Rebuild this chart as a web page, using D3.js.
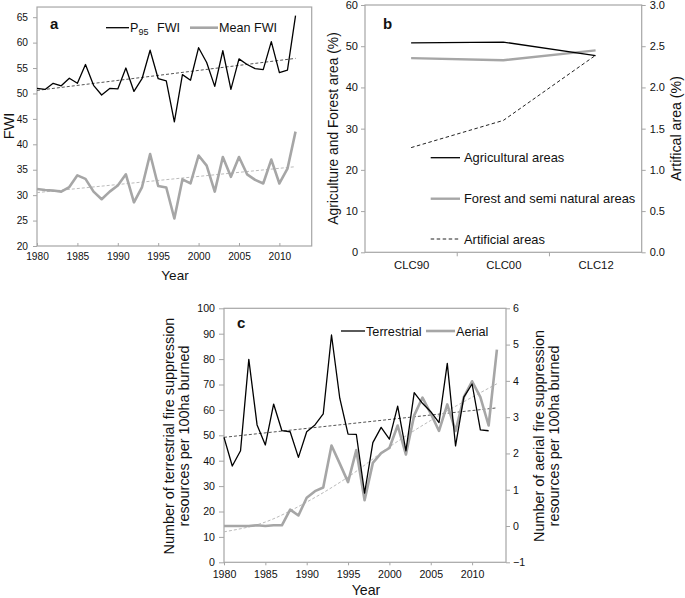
<!DOCTYPE html>
<html><head><meta charset="utf-8">
<script src="https://cdn.jsdelivr.net/npm/d3@7"></script>
<style>
body{margin:0;background:#fff;}
svg{display:block;font-family:"Liberation Sans",Arial,sans-serif;}
</style></head>
<body>
<svg id="c" width="685" height="598"></svg>
<script>
// ---------- Panel a data ----------
const yearsA = [1980,1981,1982,1983,1984,1985,1986,1987,1988,1989,1990,1991,1992,1993,1994,1995,1996,1997,1998,1999,2000,2001,2002,2003,2004,2005,2006,2007,2008,2009,2010,2011,2012];
const p95FWI = [51.0,50.8,52.0,51.5,53.0,52.0,55.7,51.6,49.7,51.0,50.9,55.0,50.4,52.9,58.5,52.9,52.5,44.4,53.7,52.6,59.0,56.1,51.4,58.4,50.8,56.8,55.7,54.9,54.7,60.2,54.1,54.6,65.3];
const meanFWI = [31.2,31.0,30.9,30.7,31.6,33.9,33.2,30.7,29.2,30.7,31.9,34.1,28.6,31.6,38.1,31.8,31.5,25.4,33.1,32.3,37.8,35.8,30.7,37.5,33.6,37.5,34.1,33.0,32.3,37.0,32.3,35.2,42.5];
const trendYearsA = [1980,2012];
const p95Trend = [50.6,56.9];
const meanTrend = [30.5,35.6];
const ticksAx = [1980,1985,1990,1995,2000,2005,2010];
const ticksAy = [20,25,30,35,40,45,50,55,60,65];

// ---------- Panel b data ----------
const clc = ["CLC90","CLC00","CLC12"];
const agri = [50.8,51.0,47.7];
const forest = [47.1,46.6,49.0];
const artificial = [1.27,1.60,2.39];
const ticksBl = [0,10,20,30,40,50,60];
const ticksBr = [0,0.5,1.0,1.5,2.0,2.5,3.0];

// ---------- Panel c data ----------
const yearsT = [1980,1981,1982,1983,1984,1985,1986,1987,1988,1989,1990,1991,1992,1993,1994,1995,1996,1997,1998,1999,2000,2001,2002,2003,2004,2005,2006,2007,2008,2009,2010,2011,2012];
const terrestrial = [49.2,37.9,43.9,79.9,54.1,46.2,62.3,51.8,51.4,41.3,51.4,54.1,58.4,89.5,64.6,50.5,50.4,27.2,47.1,53.1,48.5,61.5,43.9,66.8,62.6,59.3,55.0,78.3,45.8,65.0,70.2,52.1,51.8];
const yearsAe = [1980,1981,1982,1983,1984,1985,1986,1987,1988,1989,1990,1991,1992,1993,1994,1995,1996,1997,1998,1999,2000,2001,2002,2003,2004,2005,2006,2007,2008,2009,2010,2011,2012,2013];
const aerial = [0.0,0.0,0.0,0.0,0.02,0.0,0.02,0.02,0.45,0.29,0.78,0.96,1.06,2.22,1.72,1.21,2.09,0.71,1.74,2.01,2.15,2.77,1.97,3.05,3.54,3.10,2.62,3.35,2.62,3.55,3.99,3.55,2.77,4.86];
const terrTrendYears = [1980,2013];
const terrTrend = [49.2,60.8];
const aerTrendYears = [1980,1985,1990,1995,2000,2005,2010,2013];
const aerTrend = [-0.16,0.11,0.66,1.35,2.18,2.91,3.55,3.92];
const ticksCx = [1980,1985,1990,1995,2000,2005,2010];
const ticksCl = [0,10,20,30,40,50,60,70,80,90,100];
const ticksCr = [-1,0,1,2,3,4,5,6];

const svg = d3.select("#c");
const AX = "#a6a6a6";
const GRAY = "#a6a6a6";
const FONT = "'Liberation Sans',Arial,sans-serif";

function styleAxis(g, fs){
  g.selectAll("path.domain").remove();
  g.selectAll("line").attr("stroke", AX);
  g.selectAll("text").attr("fill","#111").style("font-size", fs+"px").style("font-family",FONT);
}
function box(x0,y0,x1,y1){
  svg.append("rect").attr("x",x0).attr("y",y0).attr("width",x1-x0).attr("height",y1-y0)
    .attr("fill","none").attr("stroke",AX).attr("stroke-width",1.2);
}
function rotText(x,y,txt,fs){
  svg.append("text").attr("transform",`translate(${x},${y}) rotate(-90)`)
    .attr("text-anchor","middle").style("font-size",fs+"px").attr("fill","#111").text(txt);
}
function legLine(x0,x1,y,color,w,dash){
  const l = svg.append("line").attr("x1",x0).attr("x2",x1).attr("y1",y).attr("y2",y)
    .attr("stroke",color).attr("stroke-width",w);
  if(dash) l.attr("stroke-dasharray",dash);
}
function txt(x,y,t,fs,extra){
  const e = svg.append("text").attr("x",x).attr("y",y).style("font-size",fs+"px").attr("fill","#111").text(t);
  if(extra) extra(e);
  return e;
}

// ================= Panel a =================
{
  const x = d3.scaleLinear().domain([1980,2014]).range([37,311.7]);
  const y = d3.scaleLinear().domain([20,65]).range([246,17.2]);
  box(37, y(67), 311.7, 246);
  const gx = svg.append("g").attr("transform","translate(0,246)")
    .call(d3.axisBottom(x).tickValues(ticksAx).tickFormat(d3.format("d")).tickSizeInner(-3).tickSizeOuter(0).tickPadding(7));
  styleAxis(gx,10.2);
  const gy = svg.append("g").attr("transform","translate(37,0)")
    .call(d3.axisLeft(y).tickValues(ticksAy).tickSizeInner(4).tickSizeOuter(0).tickPadding(5));
  styleAxis(gy,10.2);

  const line = d3.line().x(d=>x(d[0])).y(d=>y(d[1]));
  svg.append("path").datum(trendYearsA.map((t,i)=>[t,p95Trend[i]])).attr("d",line)
    .attr("fill","none").attr("stroke","#555").attr("stroke-width",1).attr("stroke-dasharray","3,2");
  svg.append("path").datum(trendYearsA.map((t,i)=>[t,meanTrend[i]])).attr("d",line)
    .attr("fill","none").attr("stroke","#bbb").attr("stroke-width",1).attr("stroke-dasharray","3,2");
  svg.append("path").datum(yearsA.map((t,i)=>[t,meanFWI[i]])).attr("d",line)
    .attr("fill","none").attr("stroke",GRAY).attr("stroke-width",2.6).attr("stroke-linejoin","round");
  svg.append("path").datum(yearsA.map((t,i)=>[t,p95FWI[i]])).attr("d",line)
    .attr("fill","none").attr("stroke","#000").attr("stroke-width",1.3).attr("stroke-linejoin","round");

  txt(50,29,"a",15).style("font-weight","bold");
  legLine(106,129,27.7,"#000",1.3);
  const t = txt(130,32,"P",12.6);
  t.append("tspan").attr("dy",3).style("font-size","9px").text("95");
  txt(157,32,"FWI",12.6);
  legLine(190,218,27.7,GRAY,2.6);
  txt(219,32,"Mean FWI",12.6);

  txt(175,280,"Year",13.5).attr("text-anchor","middle");
  rotText(13.5,126,"FWI",14.5);
}

// ================= Panel b =================
{
  const x = d3.scalePoint().domain(clc).range([365,641.7]).padding(0.5);
  const xb = d3.scaleBand().domain(clc).range([365,641.7]);
  const yl = d3.scaleLinear().domain([0,60]).range([252.3,5]);
  const yr = d3.scaleLinear().domain([0,3]).range([252.3,5]);
  box(365,5,641.7,252.3);
  const gx = svg.append("g").attr("transform","translate(0,252.3)")
    .call(d3.axisBottom(x).tickSizeInner(0).tickSizeOuter(0).tickPadding(9));
  styleAxis(gx,11.3);
  svg.append("g").selectAll("line").data(clc.slice(1)).join("line")
    .attr("x1",d=>xb(d)).attr("x2",d=>xb(d)).attr("y1",252.3).attr("y2",256.3).attr("stroke",AX);
  const gl = svg.append("g").attr("transform","translate(365,0)")
    .call(d3.axisLeft(yl).tickValues(ticksBl).tickSizeInner(4).tickSizeOuter(0).tickPadding(3));
  styleAxis(gl,11);
  const gr = svg.append("g").attr("transform","translate(641.7,0)")
    .call(d3.axisRight(yr).tickValues(ticksBr).tickFormat(d3.format(".1f")).tickSizeInner(4).tickSizeOuter(0).tickPadding(4));
  styleAxis(gr,11);

  const lineL = d3.line().x(d=>x(d[0])).y(d=>yl(d[1]));
  const lineR = d3.line().x(d=>x(d[0])).y(d=>yr(d[1]));
  svg.append("path").datum(clc.map((c,i)=>[c,artificial[i]])).attr("d",lineR)
    .attr("fill","none").attr("stroke","#222").attr("stroke-width",1).attr("stroke-dasharray","3.5,2.5");
  svg.append("path").datum(clc.map((c,i)=>[c,forest[i]])).attr("d",lineL)
    .attr("fill","none").attr("stroke",GRAY).attr("stroke-width",2.4);
  svg.append("path").datum(clc.map((c,i)=>[c,agri[i]])).attr("d",lineL)
    .attr("fill","none").attr("stroke","#000").attr("stroke-width",1.3);

  txt(383,29,"b",15).style("font-weight","bold");
  legLine(430.7,460,157.7,"#000",1.3);
  txt(464,162.3,"Agricultural areas",12.9);
  legLine(430.7,460,198.7,GRAY,2.4);
  txt(464,203.3,"Forest and semi natural areas",12.9);
  legLine(430.7,460,239,"#222",1,"3.5,2.5");
  txt(464,243.6,"Artificial areas",12.9);

  rotText(338,128.5,"Agriculture and Forest area (%)",13.8);
  rotText(681,128.5,"Artifical area (%)",14.2);
}

// ================= Panel c =================
{
  const x = d3.scaleLinear().domain([1980,2014.1]).range([224,506]);
  const yl = d3.scaleLinear().domain([0,100]).range([562.3,308.3]);
  const yr = d3.scaleLinear().domain([-1,6]).range([562.3,308.3]);
  box(224,308.3,506,562.3);
  const gx = svg.append("g").attr("transform","translate(0,562.3)")
    .call(d3.axisBottom(x).tickValues(ticksCx).tickFormat(d3.format("d")).tickSizeInner(3).tickSizeOuter(0).tickPadding(5));
  styleAxis(gx,10.6);
  const gl = svg.append("g").attr("transform","translate(224,0)")
    .call(d3.axisLeft(yl).tickValues(ticksCl).tickSizeInner(5).tickSizeOuter(0).tickPadding(4));
  styleAxis(gl,10.6);
  const gr = svg.append("g").attr("transform","translate(506,0)")
    .call(d3.axisRight(yr).tickValues(ticksCr).tickFormat(d3.format("d")).tickSizeInner(4).tickSizeOuter(0).tickPadding(3));
  styleAxis(gr,10.6);

  const lineL = d3.line().x(d=>x(d[0])).y(d=>yl(d[1]));
  const lineR = d3.line().x(d=>x(d[0])).y(d=>yr(d[1]));
  const lineRc = d3.line().x(d=>x(d[0])).y(d=>yr(d[1])).curve(d3.curveMonotoneX);
  svg.append("path").datum(terrTrendYears.map((t,i)=>[t,terrTrend[i]])).attr("d",lineL)
    .attr("fill","none").attr("stroke","#555").attr("stroke-width",1).attr("stroke-dasharray","3,2");
  svg.append("path").datum(aerTrendYears.map((t,i)=>[t,aerTrend[i]])).attr("d",lineRc)
    .attr("fill","none").attr("stroke","#bbb").attr("stroke-width",1).attr("stroke-dasharray","3,2");
  svg.append("path").datum(yearsAe.map((t,i)=>[t,aerial[i]])).attr("d",lineR)
    .attr("fill","none").attr("stroke",GRAY).attr("stroke-width",2.6).attr("stroke-linejoin","round");
  svg.append("path").datum(yearsT.map((t,i)=>[t,terrestrial[i]])).attr("d",lineL)
    .attr("fill","none").attr("stroke","#000").attr("stroke-width",1.3).attr("stroke-linejoin","round");

  txt(237,327.5,"c",15).style("font-weight","bold");
  legLine(341,365,331,"#000",1.3);
  txt(366,335.5,"Terrestrial",12.7);
  legLine(426,455,331,GRAY,2.6);
  txt(456,335.5,"Aerial",12.7);

  txt(366,594.5,"Year",14.2).attr("text-anchor","middle");
  rotText(174,436,"Number of terrestrial fire suppression",14.4);
  rotText(189,436,"resources per 100ha burned",14.4);
  rotText(544,436,"Number of aerial fire suppression",14.4);
  rotText(559,436,"resources per 100ha burned",14.4);
}
</script>
</body></html>
